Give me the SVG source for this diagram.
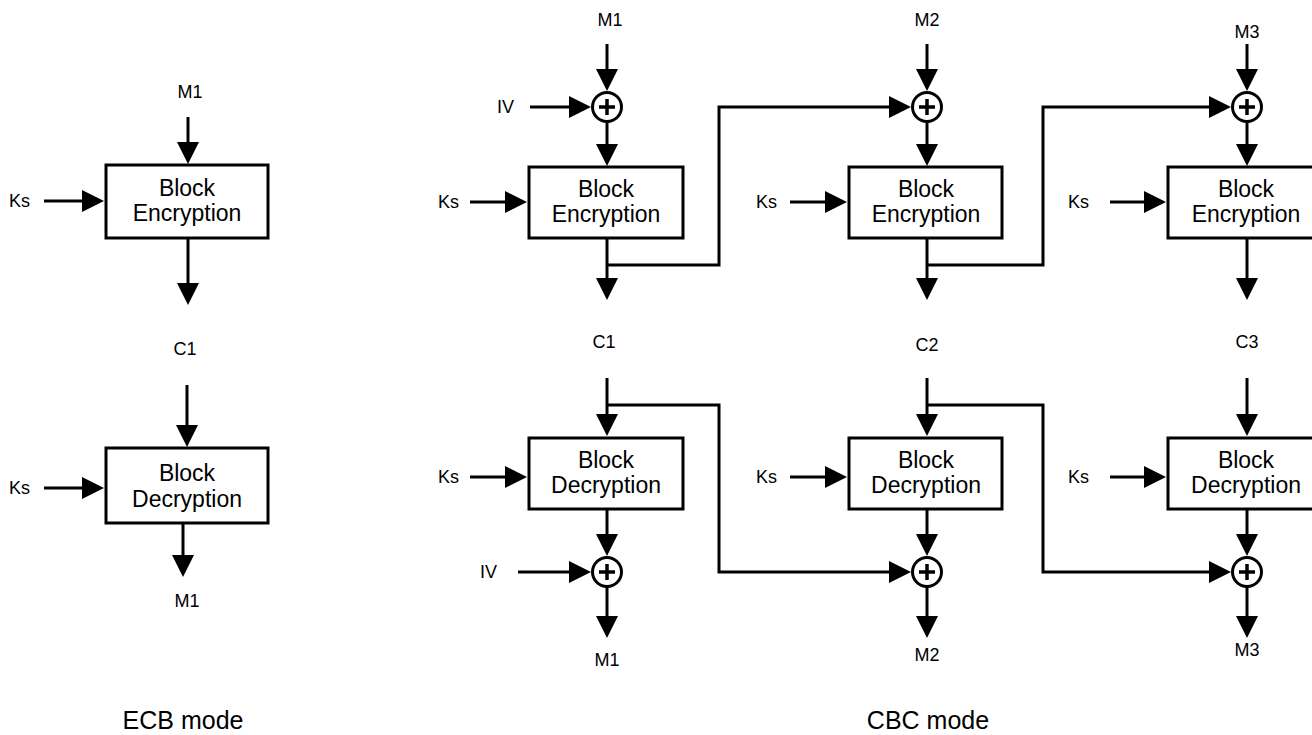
<svg xmlns="http://www.w3.org/2000/svg" width="1312" height="735" viewBox="0 0 1312 735">
<style>
.box{fill:#fff;stroke:#000;stroke-width:3}
.btxt{font-family:"Liberation Sans",Arial,sans-serif;font-size:23px;fill:#000;text-anchor:middle}
.lbl{font-family:"Liberation Sans",Arial,sans-serif;font-size:18px;fill:#000}
.mode{font-family:"Liberation Sans",Arial,sans-serif;font-size:25px;fill:#000;text-anchor:middle}
.c{fill:none;stroke:#000;stroke-width:3}
.xor{fill:#fff;stroke:#000;stroke-width:3}
.plus{stroke:#000;stroke-width:3.5}
</style>
<defs>
<marker id="ah" markerUnits="userSpaceOnUse" markerWidth="22" markerHeight="22" viewBox="0 0 22 22" refX="4" refY="11" orient="auto">
<path d="M0,0 L22,11 L0,22 z" fill="#000"/>
</marker>
</defs>
<rect width="1312" height="735" fill="#fff"/>

<g id="connectors" class="c">
<!-- ECB -->
<path d="M188,117 V146" marker-end="url(#ah)"/>
<path d="M44,201 H86" marker-end="url(#ah)"/>
<path d="M188,239 V287" marker-end="url(#ah)"/>
<path d="M187,385 V429" marker-end="url(#ah)"/>
<path d="M44,488 H86" marker-end="url(#ah)"/>
<path d="M183,524 V559" marker-end="url(#ah)"/>
<!-- CBC encryption -->
<path d="M607,44 V73" marker-end="url(#ah)"/>
<path d="M927,44 V73" marker-end="url(#ah)"/>
<path d="M1247,44 V73" marker-end="url(#ah)"/>
<path d="M607,122 V148" marker-end="url(#ah)"/>
<path d="M927,122 V148" marker-end="url(#ah)"/>
<path d="M1247,122 V148" marker-end="url(#ah)"/>
<path d="M607,239 V282" marker-end="url(#ah)"/>
<path d="M927,239 V282" marker-end="url(#ah)"/>
<path d="M1247,239 V282" marker-end="url(#ah)"/>
<path d="M470,202 H509" marker-end="url(#ah)"/>
<path d="M790,202 H829" marker-end="url(#ah)"/>
<path d="M1110,202 H1148" marker-end="url(#ah)"/>
<path d="M530,107 H573" marker-end="url(#ah)"/>
<path d="M607,265 H719 V107 H893" marker-end="url(#ah)"/>
<path d="M927,265 H1043 V107 H1213" marker-end="url(#ah)"/>
<!-- CBC decryption -->
<path d="M607,378 V418" marker-end="url(#ah)"/>
<path d="M927,378 V418" marker-end="url(#ah)"/>
<path d="M1247,378 V418" marker-end="url(#ah)"/>
<path d="M607,510 V538" marker-end="url(#ah)"/>
<path d="M927,510 V538" marker-end="url(#ah)"/>
<path d="M1247,510 V538" marker-end="url(#ah)"/>
<path d="M607,587 V620" marker-end="url(#ah)"/>
<path d="M927,587 V620" marker-end="url(#ah)"/>
<path d="M1247,587 V620" marker-end="url(#ah)"/>
<path d="M470,477 H509" marker-end="url(#ah)"/>
<path d="M790,477 H829" marker-end="url(#ah)"/>
<path d="M1110,477 H1148" marker-end="url(#ah)"/>
<path d="M518,572 H573" marker-end="url(#ah)"/>
<path d="M607,405 H719 V572 H893" marker-end="url(#ah)"/>
<path d="M927,405 H1043 V572 H1213" marker-end="url(#ah)"/>
</g>

<!-- ECB -->
<g id="ecb-enc"><rect class="box" x="106" y="165" width="162" height="73"/><text class="btxt" x="187" y="196">Block</text><text class="btxt" x="187" y="221">Encryption</text></g>
<g id="ecb-dec"><rect class="box" x="106" y="448" width="162" height="75"/><text class="btxt" x="187" y="481">Block</text><text class="btxt" x="187" y="507">Decryption</text></g>
<g id="ecb-labels">
<text class="lbl" x="190" y="98" text-anchor="middle">M1</text>
<text class="lbl" x="9" y="207">Ks</text>
<text class="lbl" x="185" y="355" text-anchor="middle">C1</text>
<text class="lbl" x="9" y="494">Ks</text>
<text class="lbl" x="187" y="607" text-anchor="middle">M1</text>
<text class="mode" x="183" y="729">ECB mode</text>
</g>

<!-- CBC encryption -->
<g id="cbc-xor-e1"><circle class="xor" cx="607" cy="107" r="14.5"/><path class="plus" d="M599,107 H615 M607,99 V115"/></g>
<g id="cbc-xor-e2"><circle class="xor" cx="927" cy="107" r="14.5"/><path class="plus" d="M919,107 H935 M927,99 V115"/></g>
<g id="cbc-xor-e3"><circle class="xor" cx="1247" cy="107" r="14.5"/><path class="plus" d="M1239,107 H1255 M1247,99 V115"/></g>
<g id="cbc-enc1"><rect class="box" x="529" y="167" width="154" height="71"/><text class="btxt" x="606" y="197">Block</text><text class="btxt" x="606" y="222">Encryption</text></g>
<g id="cbc-enc2"><rect class="box" x="849" y="167" width="153" height="71"/><text class="btxt" x="926" y="197">Block</text><text class="btxt" x="926" y="222">Encryption</text></g>
<g id="cbc-enc3"><rect class="box" x="1168" y="167" width="155" height="71"/><text class="btxt" x="1246" y="197">Block</text><text class="btxt" x="1246" y="222">Encryption</text></g>

<!-- CBC decryption -->
<g id="cbc-dec1"><rect class="box" x="529" y="438" width="154" height="71"/><text class="btxt" x="606" y="468">Block</text><text class="btxt" x="606" y="493">Decryption</text></g>
<g id="cbc-dec2"><rect class="box" x="849" y="438" width="153" height="71"/><text class="btxt" x="926" y="468">Block</text><text class="btxt" x="926" y="493">Decryption</text></g>
<g id="cbc-dec3"><rect class="box" x="1168" y="438" width="155" height="71"/><text class="btxt" x="1246" y="468">Block</text><text class="btxt" x="1246" y="493">Decryption</text></g>
<g id="cbc-xor-d1"><circle class="xor" cx="607" cy="572" r="14.5"/><path class="plus" d="M599,572 H615 M607,564 V580"/></g>
<g id="cbc-xor-d2"><circle class="xor" cx="927" cy="572" r="14.5"/><path class="plus" d="M919,572 H935 M927,564 V580"/></g>
<g id="cbc-xor-d3"><circle class="xor" cx="1247" cy="572" r="14.5"/><path class="plus" d="M1239,572 H1255 M1247,564 V580"/></g>

<g id="cbc-labels">
<text class="lbl" x="610" y="26" text-anchor="middle">M1</text>
<text class="lbl" x="927" y="26" text-anchor="middle">M2</text>
<text class="lbl" x="1247" y="38" text-anchor="middle">M3</text>
<text class="lbl" x="497" y="113">IV</text>
<text class="lbl" x="438" y="208">Ks</text>
<text class="lbl" x="756" y="208">Ks</text>
<text class="lbl" x="1068" y="208">Ks</text>
<text class="lbl" x="604" y="348" text-anchor="middle">C1</text>
<text class="lbl" x="927" y="351" text-anchor="middle">C2</text>
<text class="lbl" x="1247" y="348" text-anchor="middle">C3</text>
<text class="lbl" x="438" y="483">Ks</text>
<text class="lbl" x="756" y="483">Ks</text>
<text class="lbl" x="1068" y="483">Ks</text>
<text class="lbl" x="480" y="578">IV</text>
<text class="lbl" x="607" y="666" text-anchor="middle">M1</text>
<text class="lbl" x="927" y="661" text-anchor="middle">M2</text>
<text class="lbl" x="1247" y="656" text-anchor="middle">M3</text>
<text class="mode" x="928" y="729">CBC mode</text>
</g>
</svg>
